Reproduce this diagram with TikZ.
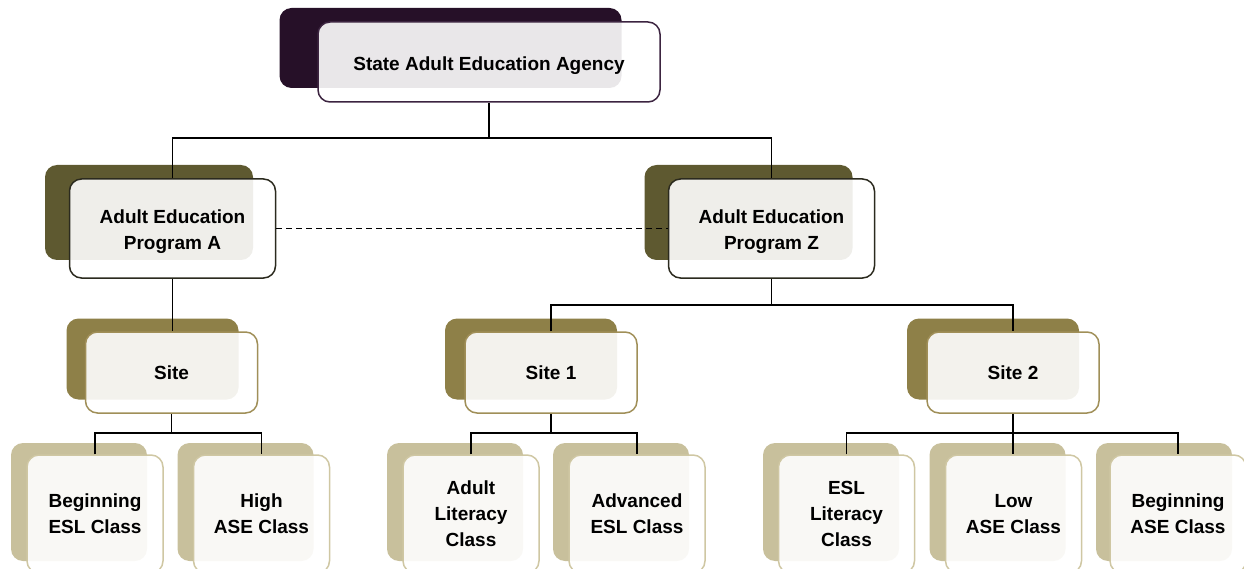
\documentclass[tikz,border=0pt]{standalone}
\usepackage{fontspec}
\setmainfont{Liberation Sans}
\definecolor{topsh}{RGB}{38,16,40}
\definecolor{topbd}{RGB}{60,36,64}
\definecolor{progsh}{RGB}{94,89,48}
\definecolor{progbd}{RGB}{43,42,30}
\definecolor{sitesh}{RGB}{142,128,72}
\definecolor{sitebd}{RGB}{160,143,88}
\definecolor{classsh}{RGB}{200,192,156}
\definecolor{classbd}{RGB}{207,199,163}
\newcommand{\lowertext}[2]{\raisebox{-#1}[\height][\depth]{\begin{tabular}{@{}c@{}}#2\end{tabular}}}
\begin{document}
\begin{tikzpicture}[x=1pt,y=-1pt,
  every node/.style={font=\bfseries\fontsize{19}{26}\selectfont, align=center, inner sep=0pt, text=black},
  shbox/.style={rounded corners=12pt},
  frbox/.style={draw, fill=white, fill opacity=0.9, text opacity=1, rounded corners=12pt, line width=1.5pt},
  conn/.style={draw=black, line width=1.8pt},
  topsize/.style={minimum width=342pt, minimum height=80pt},
  progsize/.style={minimum width=206pt, minimum height=99pt},
  progshsize/.style={minimum width=208pt, minimum height=95pt},
  sitesize/.style={minimum width=172pt, minimum height=81pt},
  classsize/.style={minimum width=136pt, minimum height=118pt}
]
\useasboundingbox (0,0) rectangle (1244,569);
\clip (0,0) rectangle (1244,569);

% shadows
\node[shbox, fill=topsh, topsize] (s0) at (450.5,48) {};
\node[shbox, fill=progsh, progshsize] (sA) at (149,212.5) {};
\node[shbox, fill=progsh, progshsize] (sZ) at (748.5,212.5) {};
\node[shbox, fill=sitesh, sitesize] (sS) at (152.5,359) {};
\node[shbox, fill=sitesh, sitesize] (sS1) at (531,359) {};
\node[shbox, fill=sitesh, sitesize] (sS2) at (993,359) {};
\node[shbox, fill=classsh, classsize] (sc1) at (79,502) {};
\node[shbox, fill=classsh, classsize] (sc2) at (245.5,502) {};
\node[shbox, fill=classsh, classsize] (sc3) at (455,502) {};
\node[shbox, fill=classsh, classsize] (sc4) at (621,502) {};
\node[shbox, fill=classsh, classsize] (sc5) at (831,502) {};
\node[shbox, fill=classsh, classsize] (sc6) at (997.5,502) {};
\node[shbox, fill=classsh, classsize] (sc7) at (1164,502) {};

% junction points
\coordinate (j0) at (489,138);
\coordinate (jZ) at (771.5,305);
\coordinate (jS) at (171.5,433);
\coordinate (jS1) at (551,433);
\coordinate (jS2) at (1013,433);

% front boxes
\node[frbox, draw=topbd, topsize] (n0) at (489,62) {\lowertext{3pt}{State Adult Education Agency}};
\node[frbox, draw=progbd, progsize] (nA) at (172.5,228.5) {\lowertext{2.5pt}{Adult Education\\Program A}};
\node[frbox, draw=progbd, progsize] (nZ) at (771.5,228.5) {\lowertext{2.5pt}{Adult Education\\Program Z}};
\node[frbox, draw=sitebd, sitesize] (nS) at (171.5,372.5) {Site};
\node[frbox, draw=sitebd, sitesize] (nS1) at (551,372.5) {Site 1};
\node[frbox, draw=sitebd, sitesize] (nS2) at (1013,372.5) {Site 2};
\node[frbox, draw=classbd, classsize] (c1) at (95,514) {Beginning\\ESL Class};
\node[frbox, draw=classbd, classsize] (c2) at (261.5,514) {High\\ASE Class};
\node[frbox, draw=classbd, classsize] (c3) at (471,514) {Adult\\Literacy\\Class};
\node[frbox, draw=classbd, classsize] (c4) at (637,514) {Advanced\\ESL Class};
\node[frbox, draw=classbd, classsize] (c5) at (846.5,514) {ESL\\Literacy\\Class};
\node[frbox, draw=classbd, classsize] (c6) at (1013.5,514) {Low\\ASE Class};
\node[frbox, draw=classbd, classsize] (c7) at (1178,514) {Beginning\\ASE Class};

% connectors
\draw[conn] (n0.south) -- (j0);
\draw[conn] (nA.north) |- (j0) -| (nZ.north);
\draw[conn, dash pattern=on 6pt off 4pt] (nA.east) -- (nZ.west);
\draw[conn] (nA.south) -- (nA.south |- nS.north);
\draw[conn] (nZ.south) -- (jZ);
\draw[conn] (nS1.north) |- (jZ) -| (nS2.north);
\draw[conn] (nS.south) -- (jS);
\draw[conn] (c1.north) |- (jS) -| (c2.north);
\draw[conn] (nS1.south) -- (jS1);
\draw[conn] (c3.north) |- (jS1) -| (c4.north);
\draw[conn] (nS2.south) -- (jS2);
\draw[conn] (c5.north) |- (jS2) -| (c7.north);
\draw[conn] (jS2) -- (c6.north -| jS2);
\end{tikzpicture}
\end{document}
